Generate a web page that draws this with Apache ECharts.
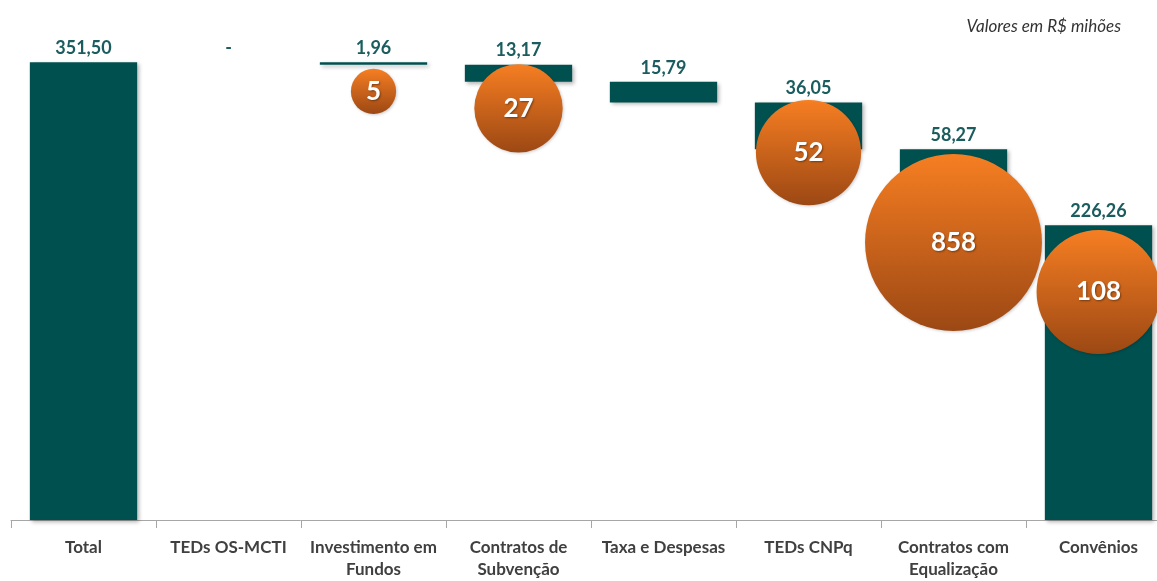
<!DOCTYPE html>
<html>
<head>
<meta charset="utf-8">
<script src="https://cdn.jsdelivr.net/npm/echarts@6/dist/echarts.min.js"></script>
<style>
html,body{margin:0;padding:0;background:#fff;overflow:hidden;width:1157px;height:581px;}
#chart{width:1172px;height:581px;}
</style>
</head>
<body>
<div id="chart"></div>
<script>
// ---- data ----
const categories = ['Total', 'TEDs OS-MCTI', 'Investimento em\nFundos', 'Contratos de\nSubvenção', 'Taxa e Despesas', 'TEDs CNPq', 'Contratos com\nEqualização', 'Convênios'];
const amounts = [351.50, 0, 1.96, 13.17, 15.79, 36.05, 58.27, 226.26];
const bubbleCategory = ['Investimento em\nFundos', 'Contratos de\nSubvenção', 'TEDs CNPq', 'Contratos com\nEqualização', 'Convênios'];
const bubbleCount = [5, 27, 52, 858, 108];
const bubbleY = [329, 316, 282, 213, 175];
const unitNote = 'Valores em R$ mihões';

// ---- waterfall build ----
const base = [];
let running = amounts[0];
amounts.forEach((v, i) => {
  if (i === 0) { base.push(0); return; }
  running -= v;
  base.push(Math.max(0, Math.round(running * 100) / 100));
});
const fmt = v => v === 0 ? '-' : v.toFixed(2).replace('.', ',');
const bubbleData = bubbleCount.map((c, i) => [bubbleCategory[i], bubbleY[i], c]);

const chart = echarts.init(document.getElementById('chart'));
chart.setOption({
  animation: false,
  title: {
    text: unitNote,
    right: 46, top: 13,
    textStyle: { fontFamily: 'Lato', fontStyle: 'italic', fontWeight: 'normal', fontSize: 17, color: '#333333' }
  },
  grid: { left: 11, right: 1, top: 25, bottom: 56, containLabel: false },
  xAxis: {
    type: 'category',
    data: categories,
    axisLine: { lineStyle: { color: '#A6A6A6', width: 1 } },
    axisTick: { show: true, alignWithLabel: false, length: 8, lineStyle: { color: '#A6A6A6' } },
    axisLabel: {
      interval: 0, margin: 17, color: '#404040', fontFamily: 'Lato', fontWeight: 'bold',
      fontSize: 17, lineHeight: 22
    }
  },
  yAxis: {
    type: 'value', min: 0, max: 380,
    show: false, splitLine: { show: false }
  },
  series: [
    {
      type: 'bar', stack: 'wf', barWidth: '74%',
      itemStyle: { color: 'transparent' },
      data: base, silent: true, z: 1
    },
    {
      type: 'bar', stack: 'wf', barWidth: '74%',
      data: amounts,
      itemStyle: {
        color: '#00504F',
        shadowColor: 'rgba(0,0,0,0.3)', shadowBlur: 4, shadowOffsetX: 2, shadowOffsetY: 2
      },
      label: {
        show: true, position: 'top', distance: 5,
        formatter: p => fmt(p.value),
        color: '#1B5C5E', fontFamily: 'Lato', fontWeight: 'bold', fontSize: 18
      },
      z: 2
    },
    {
      type: 'scatter',
      data: bubbleData,
      symbolSize: v => 2 * (2 + 12.8 * Math.log(v[2])),
      itemStyle: {
        color: new echarts.graphic.LinearGradient(0, 0, 0, 1, [
          { offset: 0, color: '#F67E22' },
          { offset: 1, color: '#9C4814' }
        ]),
        opacity: 1,
        shadowColor: 'rgba(0,0,0,0.2)', shadowBlur: 3, shadowOffsetX: 1, shadowOffsetY: 1
      },
      label: {
        show: true, position: 'inside',
        formatter: p => String(p.value[2]),
        color: '#ffffff', fontFamily: 'Lato', fontWeight: 'bold', fontSize: 26,
        textShadowColor: 'rgba(0,0,0,0.4)', textShadowBlur: 2, textShadowOffsetX: 1, textShadowOffsetY: 1
      },
      z: 5
    }
  ]
});
</script>
</body>
</html>
